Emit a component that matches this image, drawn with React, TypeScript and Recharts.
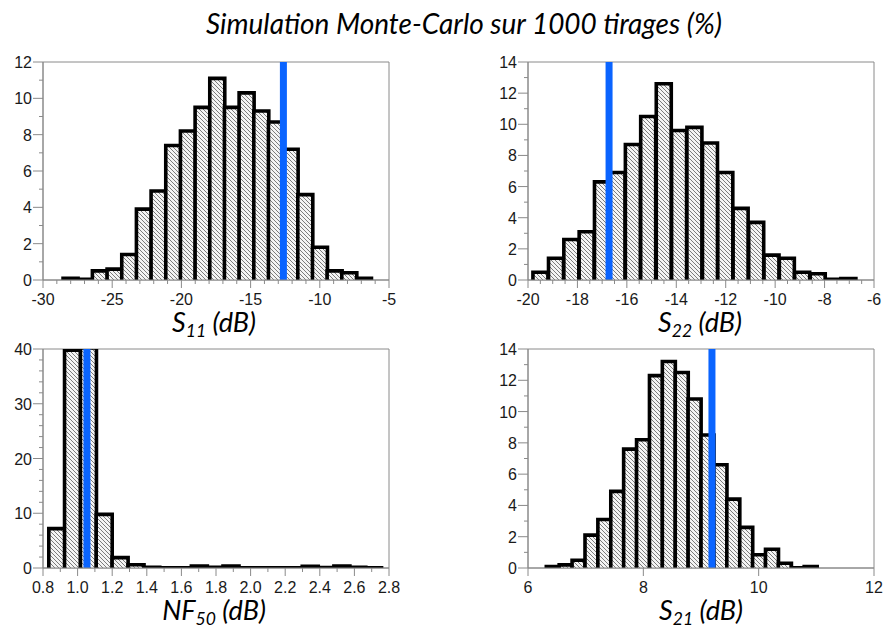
import React from 'react';
import { ComposedChart, Bar, XAxis, YAxis, ReferenceLine, ReferenceArea } from 'recharts';

// ---------- Data ----------
// S11 (dB)
const s11Bins = [-28.02, -26.96, -25.90, -24.84, -23.78, -22.72, -21.66, -20.60, -19.54, -18.48, -17.42, -16.36, -15.30, -14.24, -13.18, -12.12, -11.06, -10.00, -8.94, -7.88, -6.82];
const s11Pct = [0.1, 0.04, 0.5, 0.6, 1.4, 3.9, 4.9, 7.4, 8.2, 9.5, 11.1, 9.5, 10.3, 9.3, 8.7, 7.2, 4.7, 1.8, 0.5, 0.4, 0.1];
const s11Nominal = -12.63;
const s11XLabels = [-30, -25, -20, -15, -10, -5];
const s11YLabels = [0, 2, 4, 6, 8, 10, 12];

// S22 (dB)
const s22Bins = [-19.49, -18.86, -18.24, -17.62, -17.00, -16.37, -15.75, -15.13, -14.50, -13.88, -13.26, -12.63, -12.01, -11.39, -10.76, -10.14, -9.52, -8.90, -8.27, -7.65, -7.03];
const s22Pct = [0.5, 1.4, 2.6, 3.1, 6.3, 6.9, 8.7, 10.5, 12.6, 9.6, 9.8, 8.8, 6.9, 4.6, 3.7, 1.6, 1.4, 0.5, 0.4, 0.05, 0.1];
const s22Nominal = -16.72;
const s22XLabels = [-20, -18, -16, -14, -12, -10, -8, -6];
const s22YLabels = [0, 2, 4, 6, 8, 10, 12, 14];

// NF50 (dB)
const nfBins = [0.879, 0.970, 1.062, 1.153, 1.245, 1.337, 1.428, 1.520, 1.611, 1.703, 1.794, 1.886, 1.978, 2.069, 2.161, 2.252, 2.344, 2.435, 2.527, 2.619, 2.710];
const nfPct = [7.2, 39.8, 40.2, 9.8, 1.9, 0.6, 0.15, 0.05, 0.05, 0.35, 0.15, 0.35, 0.05, 0.02, 0.02, 0.02, 0.3, 0.1, 0.35, 0.15, 0.05];
const nfNominal = 1.054;
const nfXLabels = [0.8, 1.0, 1.2, 1.4, 1.6, 1.8, 2.0, 2.2, 2.4, 2.6, 2.8];
const nfYLabels = [0, 10, 20, 30, 40];

// S21 (dB)
const s21Bins = [6.429, 6.652, 6.876, 7.100, 7.323, 7.547, 7.770, 7.994, 8.218, 8.441, 8.665, 8.888, 9.112, 9.336, 9.559, 9.783, 10.006, 10.230, 10.454, 10.677, 10.901];
const s21Pct = [0.1, 0.2, 0.5, 2.1, 3.1, 4.9, 7.6, 8.2, 12.3, 13.2, 12.5, 10.8, 8.5, 6.6, 4.4, 2.6, 0.85, 1.2, 0.3, 0.02, 0.1];
const s21Nominal = 9.19;
const s21XLabels = [6, 8, 10, 12];
const s21YLabels = [0, 2, 4, 6, 8, 10, 12, 14];

const TITLE = 'Simulation Monte-Carlo sur 1000 tirages (%)';

// ---------- Styles ----------
const GRAY = '#8a8a8a';
const BLUE = '#0a64ff';
const TICK_FONT = '"Liberation Sans", Arial, sans-serif';
const LABEL_FONT = 'Lato, "Open Sans", sans-serif';

function range(min: number, max: number, step: number): number[] {
  const out: number[] = [];
  const n = Math.round((max - min) / step);
  for (let i = 0; i <= n; i++) out.push(Math.round((min + i * step) * 1000) / 1000);
  return out;
}
const isIn = (v: number, arr: number[]) => arr.some((a) => Math.abs(a - v) < 1e-6);

const HatchBar = (props: any) => {
  const { x, y, width, height } = props;
  if (x == null || width == null || height == null) return null;
  return (
    <g>
      <rect x={x} y={y} width={width} height={height} fill="url(#hatchPattern)" />
      <path
        d={`M${x},${y + height} L${x},${y} L${x + width},${y} L${x + width},${y + height}`}
        fill="none"
        stroke="#000"
        strokeWidth={3.6}
      />
    </g>
  );
};

type PanelProps = {
  bins: number[];
  pct: number[];
  nominal: number;
  xDomain: [number, number];
  xMinorStep: number;
  xLabels: number[];
  xFmt: (v: number) => string;
  yMax: number;
  yMinorStep: number;
  yLabels: number[];
  plotLeft: number;
  plotTop: number;
  plotW: number;
  plotH: number;
};

const Y_AXIS_W = 43;
const CHART_W = 400;
const MARGIN_TOP = 12;
const X_AXIS_H = 40;

function Panel(p: PanelProps) {
  const data = p.bins.map((x, i) => ({ x, v: p.pct[i] }));
  const xTicks = p.xMinorStep > 0 ? range(p.xDomain[0], p.xDomain[1], p.xMinorStep) : p.xLabels;
  const yTicks = range(0, p.yMax, p.yMinorStep);
  const chartH = MARGIN_TOP + p.plotH + X_AXIS_H + 4;
  const marginRight = CHART_W - Y_AXIS_W - p.plotW;

  const xTick = (tp: any) => {
    const { x, y, payload } = tp;
    const v = payload.value as number;
    const major = isIn(v, p.xLabels);
    return (
      <g>
        <line x1={x} x2={x} y1={y} y2={y + (major ? 8 : 4)} stroke={GRAY} strokeWidth={1} />
        {major && (
          <text x={x} y={y + 25} textAnchor="middle" fontFamily={TICK_FONT} fontSize={16} fill="#1a1a1a">
            {p.xFmt(v)}
          </text>
        )}
      </g>
    );
  };
  const yTick = (tp: any) => {
    const { x, y, payload } = tp;
    const v = payload.value as number;
    const major = isIn(v, p.yLabels);
    return (
      <g>
        <line x1={x - (major ? 10 : 4)} x2={x} y1={y} y2={y} stroke={GRAY} strokeWidth={1} />
        {major && (
          <text x={x - 11} y={y + 6} textAnchor="end" fontFamily={TICK_FONT} fontSize={16} fill="#1a1a1a">
            {String(v)}
          </text>
        )}
      </g>
    );
  };

  return (
    <div style={{ position: 'absolute', left: p.plotLeft - Y_AXIS_W, top: p.plotTop - MARGIN_TOP }}>
      <ComposedChart
        width={CHART_W}
        height={chartH}
        data={data}
        margin={{ top: MARGIN_TOP, right: marginRight, bottom: chartH - MARGIN_TOP - p.plotH - X_AXIS_H, left: 0 }}
        barCategoryGap={0}
        barGap={0}
      >
        <XAxis
          dataKey="x"
          type="number"
          domain={p.xDomain}
          ticks={xTicks}
          interval={0}
          allowDataOverflow
          height={X_AXIS_H}
          tickSize={0}
          tickMargin={0}
          tickLine={false}
          tick={xTick}
          axisLine={{ stroke: GRAY, strokeWidth: 1 }}
        />
        <YAxis
          type="number"
          domain={[0, p.yMax]}
          ticks={yTicks}
          interval={0}
          allowDataOverflow
          width={Y_AXIS_W}
          tickSize={0}
          tickMargin={0}
          tickLine={false}
          tick={yTick}
          axisLine={{ stroke: GRAY, strokeWidth: 1 }}
        />
        <ReferenceArea
          x1={p.xDomain[0]}
          x2={p.xDomain[1]}
          y1={0}
          y2={p.yMax}
          fill="none"
          fillOpacity={0}
          stroke={GRAY}
          strokeWidth={1}
          strokeOpacity={1}
        />
        <Bar dataKey="v" isAnimationActive={false} shape={HatchBar} />
        <ReferenceLine x={p.nominal} stroke={BLUE} strokeWidth={7} />
      </ComposedChart>
    </div>
  );
}

const labelStyle = (cx: number, top: number): React.CSSProperties => ({
  position: 'absolute',
  left: cx - 100,
  width: 200,
  top,
  textAlign: 'center',
  fontFamily: LABEL_FONT,
  fontStyle: 'italic',
  fontSize: 27,
  lineHeight: '20px',
  color: '#000',
  whiteSpace: 'nowrap',
});
const subStyle: React.CSSProperties = { fontSize: '0.65em', verticalAlign: '-0.3em', lineHeight: '10px' };

export default function App() {
  return (
    <div
      style={{
        position: 'absolute',
        left: 0,
        top: 0,
        width: 884,
        height: 631,
        background: '#fff',
        overflow: 'hidden',
      }}
    >
      <svg width={0} height={0} style={{ position: 'absolute' }}>
        <defs>
          <pattern id="hatchPattern" patternUnits="userSpaceOnUse" width={4} height={4}>
            <rect x={0} y={0} width={4} height={4} fill="#f4f4f4" />
            <path d="M-1,-1 L5,5 M-1,3 L1,5 M3,-1 L5,1" stroke="#6e6e6e" strokeWidth={0.9} />
          </pattern>
        </defs>
      </svg>

      <div
        style={{
          position: 'absolute',
          left: 114,
          width: 700,
          top: 9,
          textAlign: 'center',
          fontFamily: LABEL_FONT,
          fontStyle: 'italic',
          fontSize: 28,
          lineHeight: '28px',
          color: '#000',
          whiteSpace: 'nowrap',
        }}
      >
        {TITLE}
      </div>

      <Panel
        bins={s11Bins}
        pct={s11Pct}
        nominal={s11Nominal}
        xDomain={[-30, -5]}
        xMinorStep={1}
        xLabels={s11XLabels}
        xFmt={(v) => String(v)}
        yMax={12}
        yMinorStep={1}
        yLabels={s11YLabels}
        plotLeft={43}
        plotTop={62}
        plotW={346}
        plotH={218}
      />
      <Panel
        bins={s22Bins}
        pct={s22Pct}
        nominal={s22Nominal}
        xDomain={[-20, -6]}
        xMinorStep={0.5}
        xLabels={s22XLabels}
        xFmt={(v) => String(v)}
        yMax={14}
        yMinorStep={1}
        yLabels={s22YLabels}
        plotLeft={528}
        plotTop={62}
        plotW={346}
        plotH={218}
      />
      <Panel
        bins={nfBins}
        pct={nfPct}
        nominal={nfNominal}
        xDomain={[0.8, 2.8]}
        xMinorStep={0.1}
        xLabels={nfXLabels}
        xFmt={(v) => v.toFixed(1)}
        yMax={40}
        yMinorStep={2}
        yLabels={nfYLabels}
        plotLeft={43}
        plotTop={349}
        plotW={346}
        plotH={219}
      />
      <Panel
        bins={s21Bins}
        pct={s21Pct}
        nominal={s21Nominal}
        xDomain={[6, 12]}
        xMinorStep={0}
        xLabels={s21XLabels}
        xFmt={(v) => String(v)}
        yMax={14}
        yMinorStep={1}
        yLabels={s21YLabels}
        plotLeft={528}
        plotTop={349}
        plotW={346}
        plotH={219}
      />

      <div style={labelStyle(214, 312)}>
        S<span style={subStyle}>11</span> (dB)
      </div>
      <div style={labelStyle(700, 312)}>
        S<span style={subStyle}>22</span> (dB)
      </div>
      <div style={labelStyle(214, 600)}>
        NF<span style={subStyle}>50</span> (dB)
      </div>
      <div style={labelStyle(701, 600)}>
        S<span style={subStyle}>21</span> (dB)
      </div>
    </div>
  );
}
